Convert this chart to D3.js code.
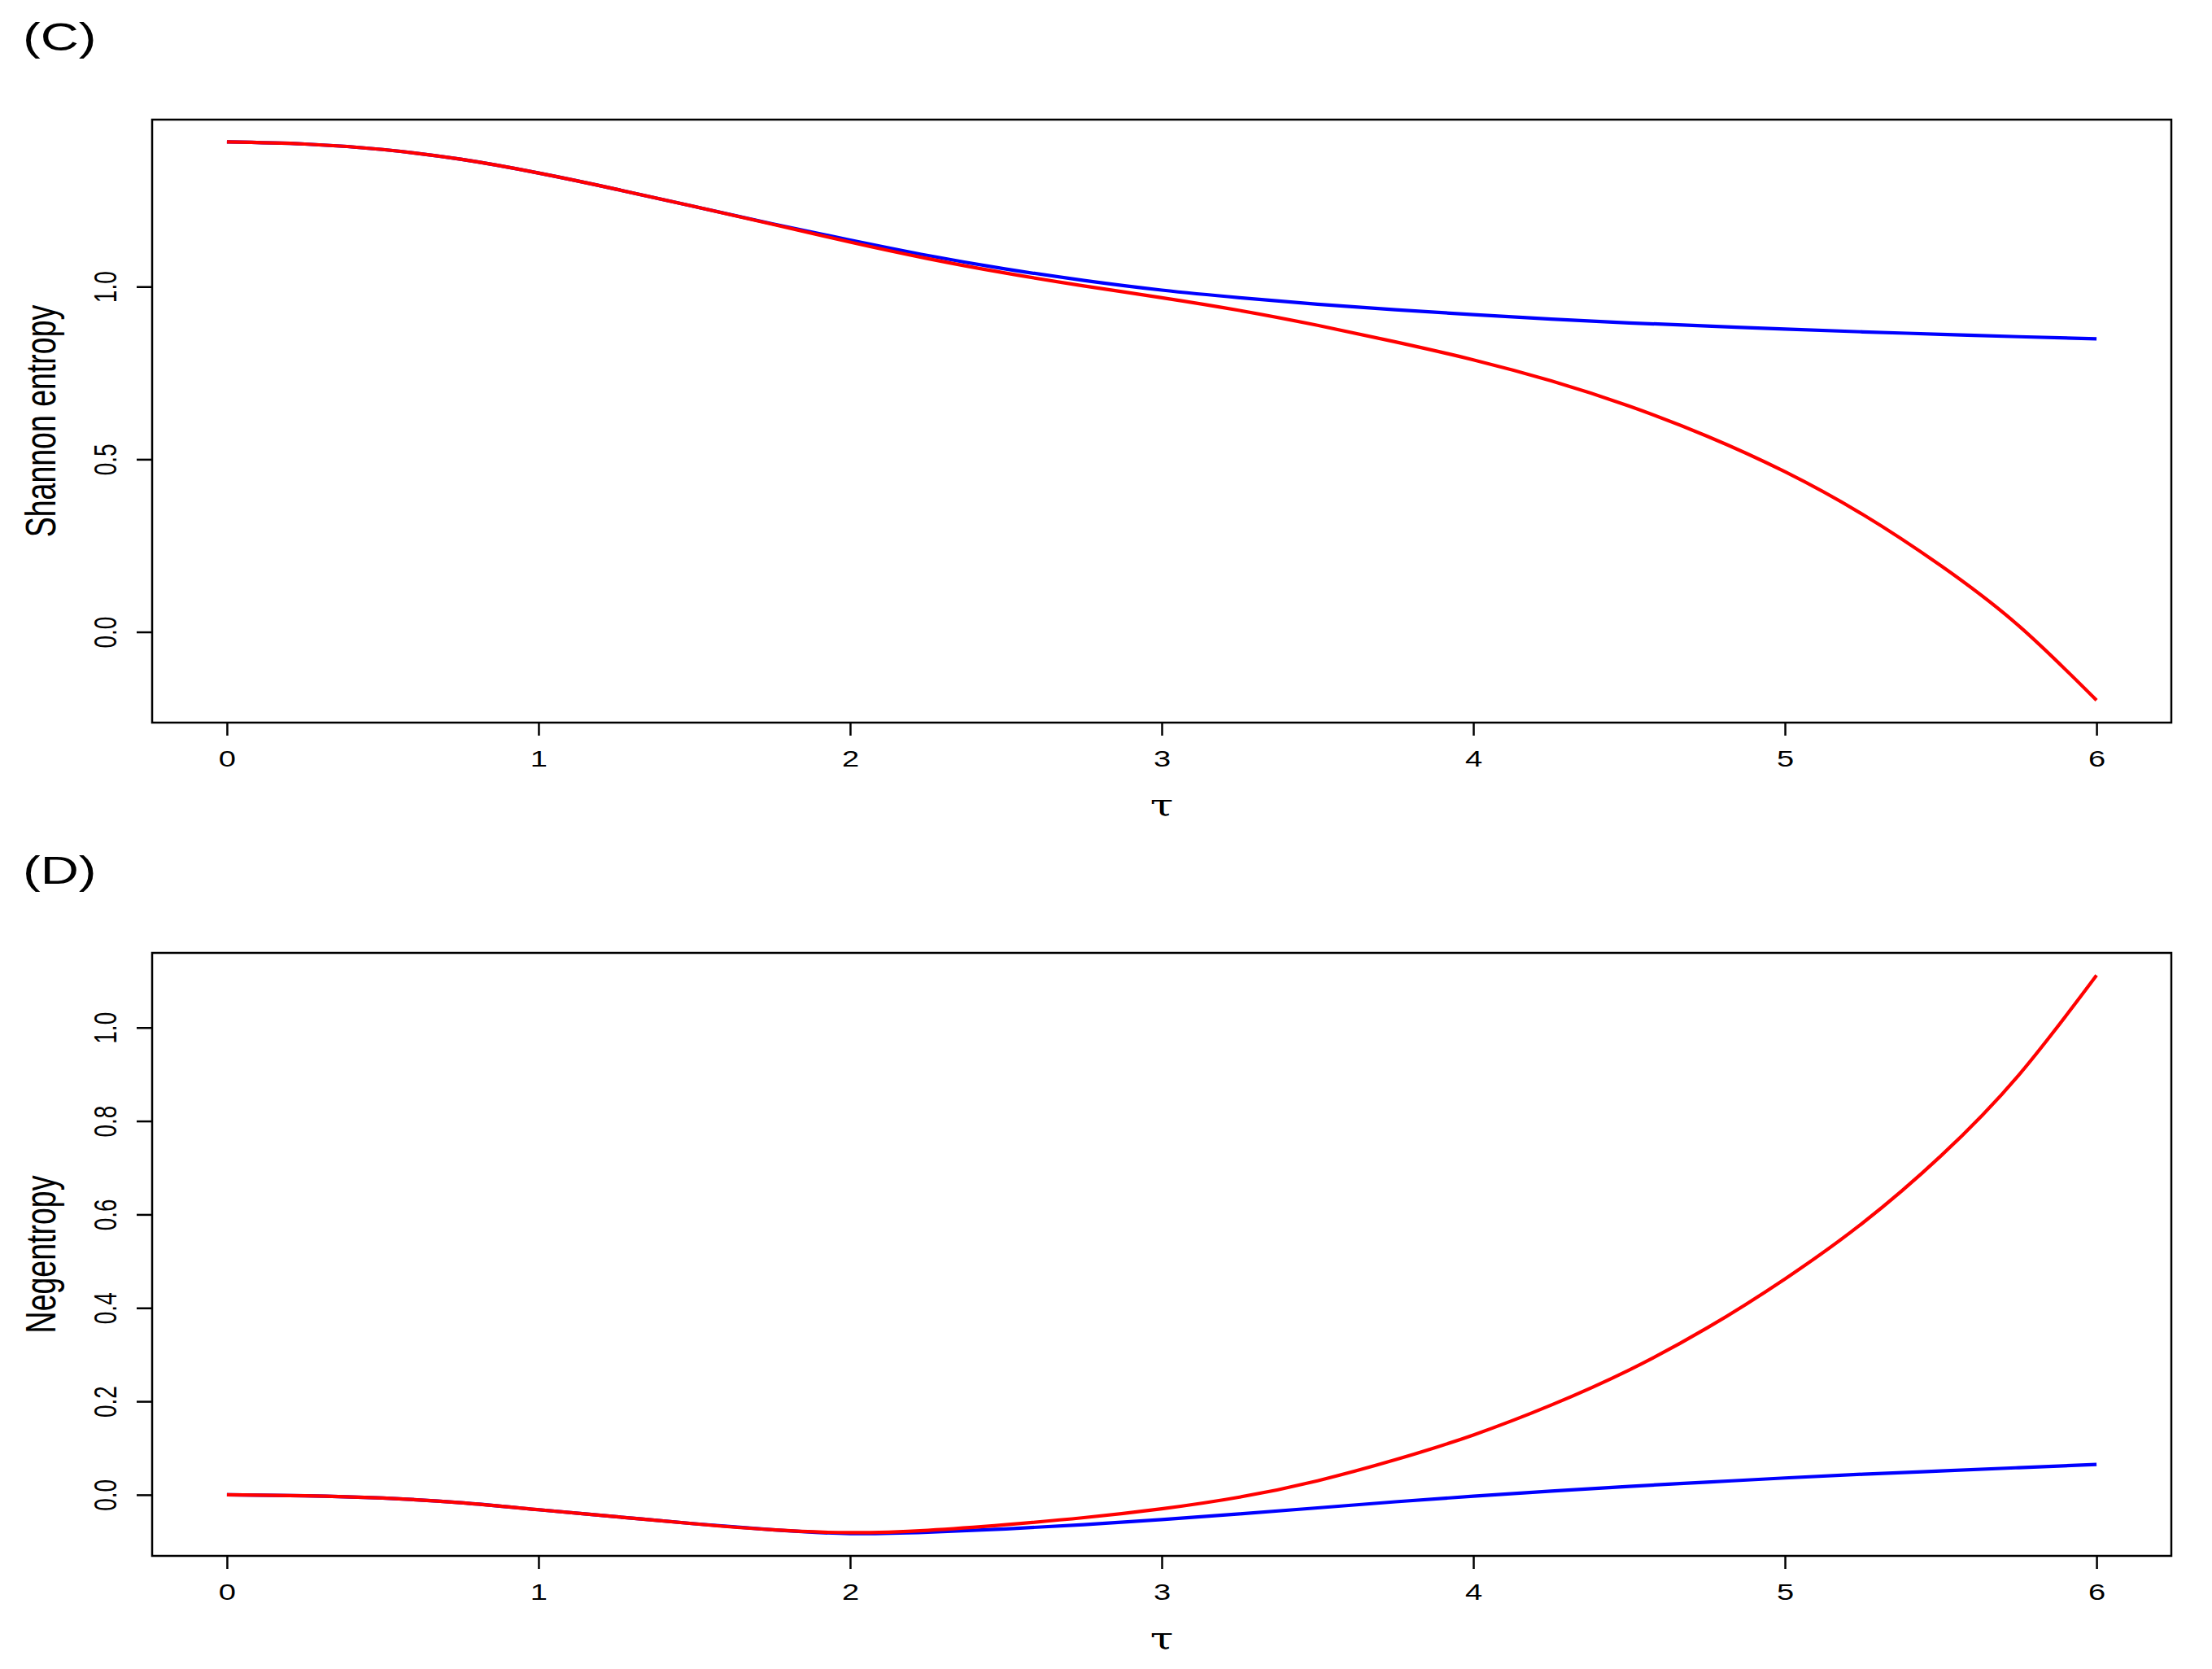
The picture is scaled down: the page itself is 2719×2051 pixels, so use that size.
<!DOCTYPE html>
<html>
<head>
<meta charset="utf-8">
<script src="https://cdn.jsdelivr.net/npm/d3@7"></script>
<style>
body { margin: 0; background: #fff; }
</style>
</head>
<body>
<svg id="chart" width="2719" height="2051"></svg>
<script>
// DATA (tau step 0.25)
var tau = [0, 0.25, 0.5, 0.75, 1, 1.25, 1.5, 1.75, 2, 2.25, 2.5, 2.75, 3,
    3.25, 3.5, 3.75, 4, 4.25, 4.5, 4.75, 5, 5.25, 5.5, 5.75, 6];

var shannonBlue = [1.419, 1.413, 1.397, 1.369, 1.329, 1.282, 1.232, 1.182, 1.135,
    1.090, 1.051, 1.018, 0.990, 0.968, 0.949, 0.933, 0.919, 0.906, 0.895, 0.886,
    0.877, 0.869, 0.862, 0.855, 0.849];
var shannonRed = [1.419, 1.413, 1.397, 1.369, 1.329, 1.282, 1.232, 1.181, 1.129,
    1.081, 1.039, 1.002, 0.968, 0.931, 0.888, 0.840, 0.788, 0.727, 0.654, 0.567,
    0.464, 0.340, 0.192, 0.018, -0.198];

var negBlue = [0.000, -0.002, -0.007, -0.017, -0.032, -0.047, -0.062, -0.075, -0.083,
    -0.080, -0.073, -0.064, -0.053, -0.041, -0.028, -0.015, -0.003, 0.008, 0.018,
    0.027, 0.036, 0.044, 0.051, 0.058, 0.065];
var negRed = [0.000, -0.002, -0.007, -0.017, -0.032, -0.047, -0.062, -0.075, -0.081,
    -0.076, -0.064, -0.049, -0.030, -0.005, 0.030, 0.075, 0.128, 0.192, 0.267,
    0.357, 0.462, 0.582, 0.725, 0.898, 1.112];

var xTicks = [0, 1, 2, 3, 4, 5, 6];
var shannonTicks = [0, 0.5, 1.0];
var negTicks = [0, 0.2, 0.4, 0.6, 0.8, 1.0];

// Constants
var width = 2719, height = 2051;
var left = 187, right = 2669;
var stretch = 1.36; // the picture is wider than tall, text too
var tickFont = 28, labFont = 37.5, tagFont = 48;
var font = "'Liberation Sans', Arial, Helvetica, sans-serif";
var blue = "#0000ff", red = "#ff0000";

var svg = d3.select("#chart");
svg.append("rect").attr("width", width).attr("height", height).attr("fill", "#fff");

// R style axis range: data extent plus 4% each side
function padded(ext) {
    var r = ext[1] - ext[0];
    return [ext[0] - 0.04 * r, ext[1] + 0.04 * r];
}

var x = d3.scaleLinear().domain(padded(d3.extent(tau))).range([left, right]);

drawPanel({ top: 147, bottom: 888, tag: "(C)", ylab: "Shannon entropy",
    ticks: shannonTicks, blue: shannonBlue, red: shannonRed });
drawPanel({ top: 1171, bottom: 1912, tag: "(D)", ylab: "Negentropy",
    ticks: negTicks, blue: negBlue, red: negRed });


function drawPanel(p) {
    var y = d3.scaleLinear()
        .domain(padded(d3.extent(p.blue.concat(p.red))))
        .range([p.bottom, p.top]);
    var g = svg.append("g");

    var line = d3.line()
        .x(function (d, i) { return x(tau[i]); })
        .y(function (d) { return y(d); })
        .curve(d3.curveNatural);

    // blue first, red drawn over it
    g.append("path").datum(p.blue)
        .attr("d", line).attr("fill", "none")
        .attr("stroke", blue).attr("stroke-width", 4.2).attr("stroke-linejoin", "round");
    g.append("path").datum(p.red)
        .attr("d", line).attr("fill", "none")
        .attr("stroke", red).attr("stroke-width", 4.2).attr("stroke-linejoin", "round");

    // box
    g.append("rect")
        .attr("x", left).attr("y", p.top)
        .attr("width", right - left).attr("height", p.bottom - p.top)
        .attr("fill", "none").attr("stroke", "#000").attr("stroke-width", 2.5);

    // x axis
    var xa = g.append("g")
        .attr("transform", "translate(0," + p.bottom + ")")
        .call(d3.axisBottom(x).tickValues(xTicks).tickSize(16).tickFormat(d3.format("d")));
    xa.select(".domain").remove();
    xa.attr("font-family", font).attr("font-size", tickFont);
    xa.selectAll("line").attr("stroke", "#000").attr("stroke-width", 2.5);
    xa.selectAll("text")
        .attr("y", 0).attr("dy", 0).attr("fill", "#000")
        .attr("transform", "translate(0,54) scale(" + stretch + ",1)");

    // y axis, labels parallel to the axis
    var ya = g.append("g")
        .attr("transform", "translate(" + left + ",0)")
        .call(d3.axisLeft(y).tickValues(p.ticks).tickSize(19).tickFormat(d3.format(".1f")));
    ya.select(".domain").remove();
    ya.attr("font-family", font).attr("font-size", tickFont);
    ya.selectAll("line").attr("stroke", "#000").attr("stroke-width", 2.5);
    ya.selectAll("text")
        .attr("x", 0).attr("dy", 0).attr("fill", "#000")
        .attr("text-anchor", "middle")
        .attr("transform", "translate(-44,0) scale(" + stretch + ",1) rotate(-90)");

    // axis titles
    g.append("text")
        .attr("transform", "translate(" + (left + right) / 2 + "," + (p.bottom + 114) + ") scale(" + stretch + ",1)")
        .attr("text-anchor", "middle")
        .attr("font-family", "'DejaVu Serif', serif")
        .attr("font-size", 38)
        .text("\u03c4");
    g.append("text")
        .attr("transform", "translate(68," + (p.top + p.bottom) / 2 + ") scale(" + stretch + ",1) rotate(-90)")
        .attr("text-anchor", "middle")
        .attr("font-family", font)
        .attr("font-size", labFont)
        .text(p.ylab);

    // panel tag
    g.append("text")
        .attr("transform", "translate(28," + (p.top - 85) + ") scale(" + stretch + ",1)")
        .attr("font-family", font)
        .attr("font-size", tagFont)
        .text(p.tag);
}
</script>
</body>
</html>
